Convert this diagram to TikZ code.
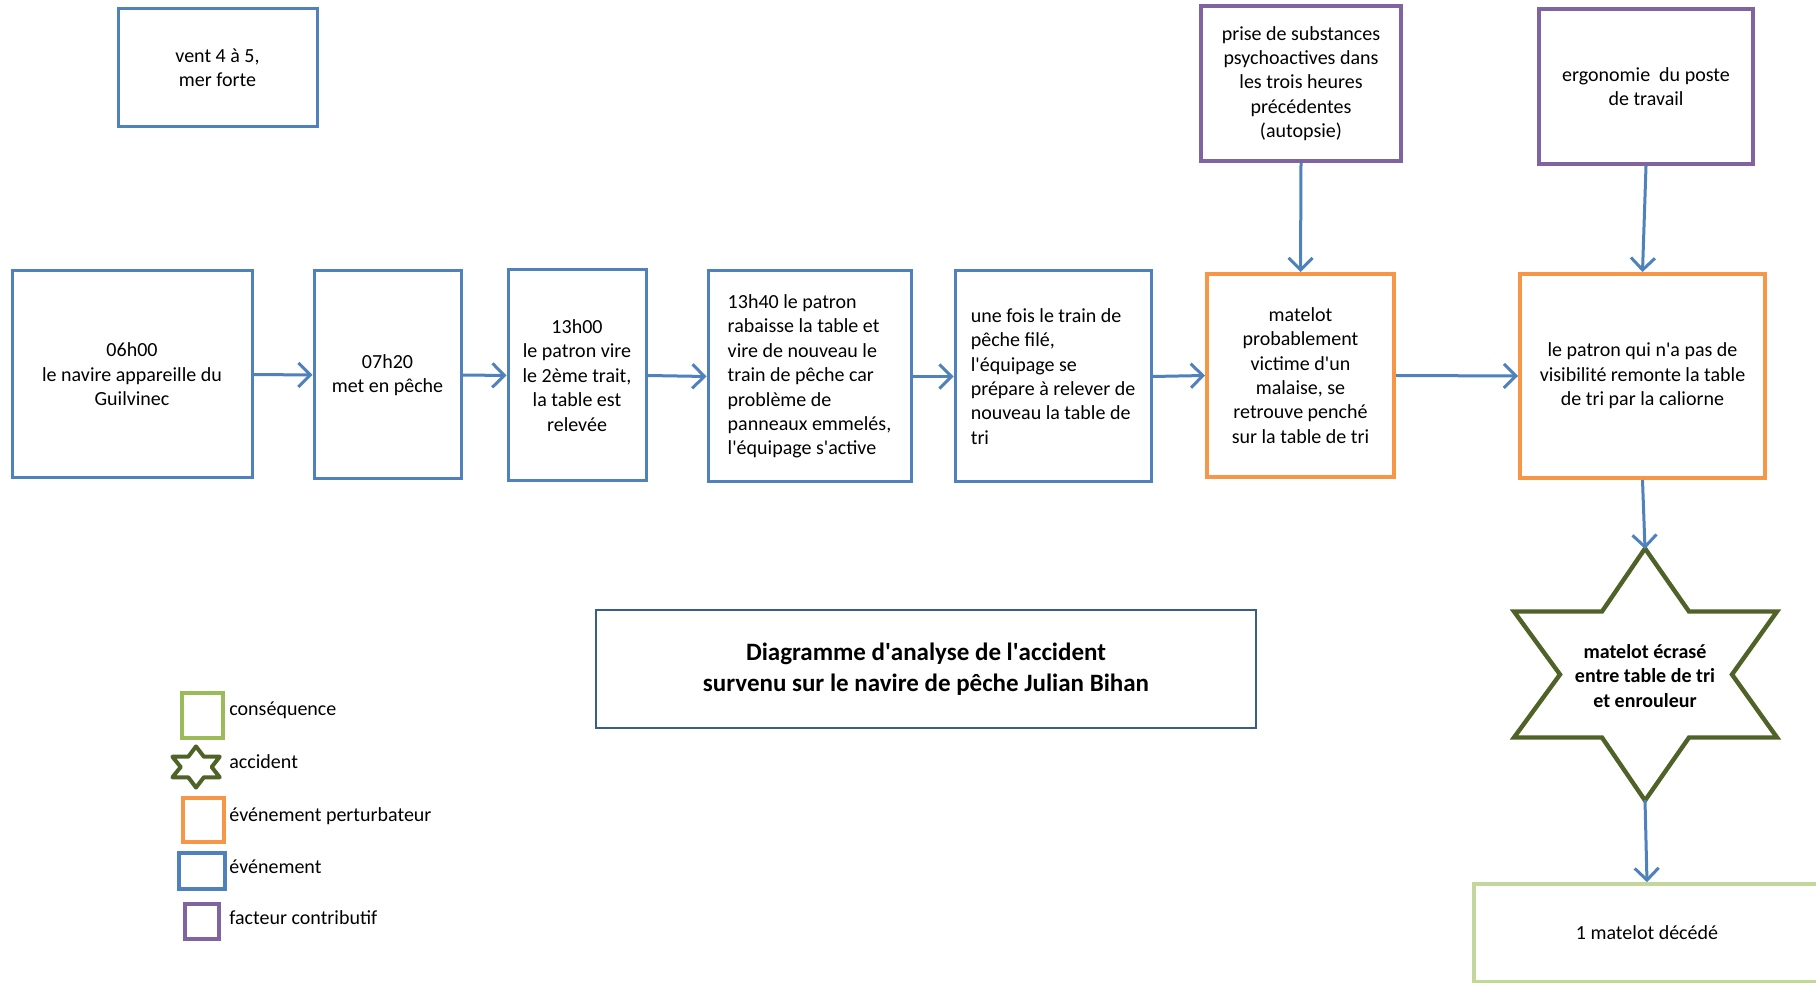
\documentclass[tikz,border=0pt]{standalone}
\usepackage{fontspec}
\setmainfont{Carlito}
\usetikzlibrary{arrows.meta}
\definecolor{evblue}{HTML}{4F81BD}
\definecolor{perturb}{HTML}{F79646}
\definecolor{facteur}{HTML}{8064A2}
\definecolor{accid}{HTML}{4F6228}
\definecolor{legreen}{HTML}{9BBB59}
\definecolor{consgreen}{HTML}{C3D69B}
\definecolor{titleblue}{HTML}{385D8A}
\newcommand{\ap}{\textquotesingle}
\tikzset{
  txt/.style={font=\fontsize{10}{12.2}\selectfont, align=center, inner sep=0pt},
  evbox/.style={txt, draw=evblue, line width=1.5pt},
  pertbox/.style={txt, draw=perturb, line width=2pt},
  factbox/.style={txt, draw=facteur, line width=2pt},
  consbox/.style={txt, draw=consgreen, line width=2pt},
  arr/.style={draw=evblue, line width=1.5pt, -{Straight Barb[length=6pt,width=12pt]}},
  legtxt/.style={txt, anchor=west},
  hexstar/.pic={\draw[pic actions] (0,-126) -- (44,-63) -- (132,-63) -- (87,0) -- (132,63) -- (44,63) -- (0,126) -- (-43,63) -- (-131,63) -- (-85,0) -- (-131,-63) -- (-43,-63) -- cycle;}
}
\begin{document}
\begin{tikzpicture}[x=0.5pt, y=-0.5pt]
\clip (0,0) rectangle (1816,983);
\fill[white] (0,0) rectangle (1816,983);

% top factors
\node[evbox, minimum width=99.5pt, minimum height=59pt] (vent) at (217.5,68) {vent 4 à 5,\\mer forte};
\node[factbox, minimum width=100pt, minimum height=77.5pt] (p1) at (1301,83.5) {prise de substances\\psychoactives dans\\les trois heures\\précédentes\\(autopsie)};
\node[factbox, minimum width=107pt, minimum height=77.5pt] (p2) at (1646,86.5) {ergonomie\ \ du poste\\de travail};

% main chain
\node[evbox, minimum width=120pt, minimum height=103.5pt] (b1) at (132,374.5) {06h00\\le navire appareille du\\Guilvinec};
\node[evbox, minimum width=73.5pt, minimum height=104pt] (b2) at (387.5,375) {07h20\\met en pêche};
\node[evbox, minimum width=69pt, minimum height=105.5pt] (b3) at (577,375.5) {13h00\\le patron vire\\le 2ème trait,\\la table est\\relevée};
\node[evbox, align=left, minimum width=101.5pt, minimum height=105.5pt] (b4) at (809.5,376.5) {13h40 le patron\\rabaisse la table et\\vire de nouveau le\\train de pêche car\\problème de\\panneaux emmelés,\\l\ap équipage s\ap active};
\node[evbox, align=left, minimum width=98pt, minimum height=105.5pt] (b5) at (1053,376.5) {une fois le train de\\pêche filé,\\l\ap équipage se\\prépare à relever de\\nouveau la table de\\tri};
\node[pertbox, minimum width=93.5pt, minimum height=101.5pt] (o1) at (1300.5,375.5) {matelot\\probablement\\victime d\ap un\\malaise, se\\retrouve penché\\sur la table de tri};
\node[pertbox, minimum width=122.5pt, minimum height=102pt] (o2) at (1642.5,376) {le patron qui n\ap a pas de\\visibilité remonte la table\\de tri par la caliorne};

% accident star
\pic[draw=accid, line width=2.2pt] at (1645,674.5) {hexstar};
\coordinate (startop) at (1645,549);
\coordinate (starbot) at (1645,800);
\node[txt, font=\fontsize{10}{12.2}\selectfont\bfseries] (star) at (1645,676) {matelot écrasé\\entre table de tri\\et enrouleur};

% consequence
\node[consbox, minimum width=173pt, minimum height=48.8pt] (cons) at (1647,933) {1 matelot décédé};

% title
\node[txt, draw=titleblue, line width=0.8pt, font=\fontsize{12.5}{15.2}\selectfont\bfseries, minimum width=330pt, minimum height=59pt] (title) at (926,669) {Diagramme d\ap analyse de l\ap accident\\survenu sur le navire de pêche Julian Bihan};

% connectors
\draw[arr] (b1.east) -- (b2.west);
\draw[arr] (b2.east) -- (b3.west);
\draw[arr] (b3.east) -- (b4.west);
\draw[arr] (b4.east) -- (b5.west);
\draw[arr] (b5.east) -- (o1.west);
\draw[arr] (o1.east) -- (o2.west);
\draw[arr] (p1.south) -- (o1.north);
\draw[arr] (p2.south) -- (o2.north);
\draw[arr] (o2.south) -- (startop);
\draw[arr] (starbot) -- (cons.north);

% legend
\node[draw=legreen, line width=2pt, minimum width=20.5pt, minimum height=22.5pt, inner sep=0pt] (lg1) at (202.5,715.5) {};
\pic[draw=accid, line width=2pt, line join=round, xscale=0.18, yscale=0.163] at (196,767) {hexstar};
\coordinate (lg2) at (196,767);
\node[draw=perturb, line width=2pt, minimum width=20.5pt, minimum height=22pt, inner sep=0pt] (lg3) at (203.5,820) {};
\node[draw=evblue, line width=2pt, minimum width=23pt, minimum height=18pt, inner sep=0pt] (lg4) at (202,871) {};
\node[draw=facteur, line width=2pt, minimum width=17pt, minimum height=17.5pt, inner sep=0pt] (lg5) at (202,921.5) {};
\node[legtxt] (lt1) at (229,710) {conséquence};
\node[legtxt] (lt2) at (229,762) {accident};
\node[legtxt] (lt3) at (229,816) {événement perturbateur};
\node[legtxt] (lt4) at (229,867) {événement};
\node[legtxt] (lt5) at (229,918) {facteur contributif};
\end{tikzpicture}
\end{document}
